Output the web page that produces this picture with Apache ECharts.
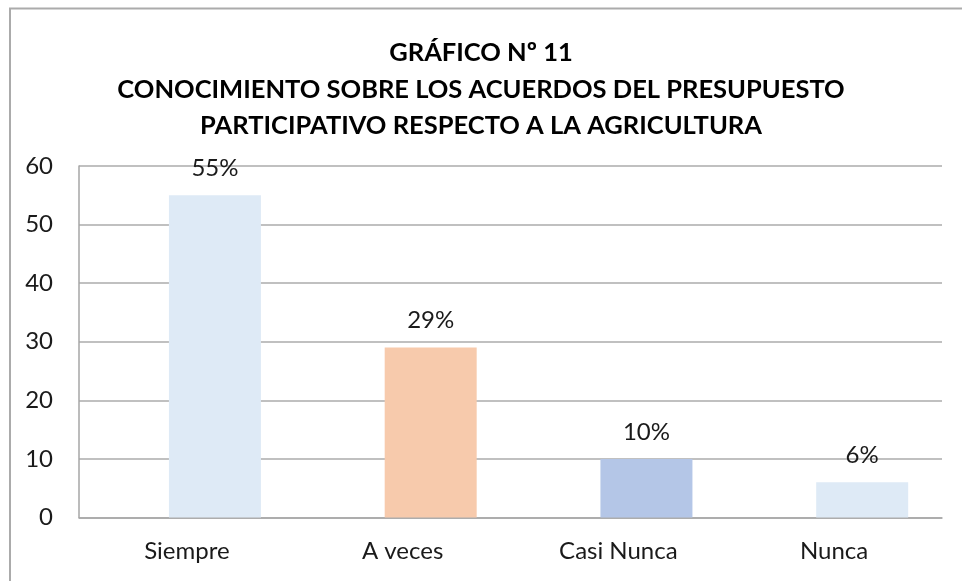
<!DOCTYPE html>
<html>
<head>
<meta charset="utf-8">
<script src="https://cdn.jsdelivr.net/npm/echarts@6/dist/echarts.min.js"></script>
<style>
html,body{margin:0;padding:0;background:#fff;}
#c{width:962px;height:581px;}
</style>
</head>
<body>
<div id="c"></div>
<script>
const categories = ["Siempre", "A veces", "Casi Nunca", "Nunca"];
const values = [55, 29, 10, 6];
const percentLabels = ["55%", "29%", "10%", "6%"];
const barColors = ["#DEEAF6", "#F7CAAC", "#B4C6E7", "#DEEAF6"];
const yTicks = { min: 0, max: 60, interval: 10 };
const titleLines = [
  "GRÁFICO Nº 11",
  "CONOCIMIENTO SOBRE LOS ACUERDOS DEL PRESUPUESTO",
  "PARTICIPATIVO RESPECTO A LA AGRICULTURA"
];

const chart = echarts.init(document.getElementById('c'), null, { renderer: 'canvas' });
const font = 'Lato';
chart.setOption({
  backgroundColor: '#fff',
  animation: false,
  title: {
    text: titleLines.join('\n'),
    left: 'center',
    top: 30,
    textStyle: { fontFamily: font, fontWeight: 'bold', fontSize: 25.5, lineHeight: 36.5, color: '#000' }
  },
  graphic: [{
    type: 'polyline',
    shape: { points: [[10, 600], [10, 8.5], [980, 8.5]] },
    style: { stroke: '#ababab', lineWidth: 2, fill: null },
    silent: true
  }],
  grid: { left: 79, right: 20, top: 166, bottom: 63.5 },
  xAxis: {
    type: 'category',
    data: categories,
    axisLine: { show: true, lineStyle: { color: '#a6a6a6', width: 1.5 } },
    axisTick: { show: false },
    axisLabel: { fontFamily: font, fontSize: 24, color: '#1a1a1a', margin: 22 }
  },
  yAxis: {
    type: 'value',
    min: yTicks.min, max: yTicks.max, interval: yTicks.interval,
    axisLine: { show: true, lineStyle: { color: '#a6a6a6', width: 1.5 } },
    axisTick: { show: false },
    splitLine: { show: true, lineStyle: { color: '#ababab', width: 1.5 } },
    axisLabel: { fontFamily: font, fontSize: 24, color: '#1a1a1a', margin: 26 }
  },
  series: [
    {
      type: 'bar',
      name: 'placeholder',
      data: categories.map(() => null),
      barWidth: 92,
      silent: true
    },
    {
      type: 'bar',
      name: 'valores',
      data: values.map((v, i) => ({ value: v, itemStyle: { color: barColors[i] } })),
      barWidth: 92,
      barGap: '-39%',
      label: {
        show: true,
        position: 'top',
        distance: 15,
        fontFamily: font,
        fontSize: 24,
        color: '#1a1a1a',
        formatter: p => percentLabels[p.dataIndex]
      }
    }
  ]
});
</script>
</body>
</html>
